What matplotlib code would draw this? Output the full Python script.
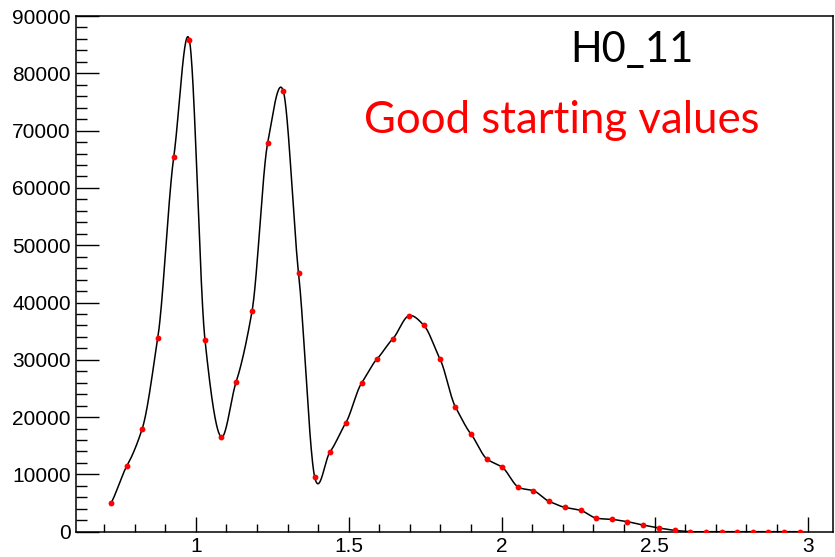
import numpy as np
import matplotlib
matplotlib.use("Agg")
import matplotlib.pyplot as plt

# Measured points (x position and counts)
x_vals = [0.723, 0.774, 0.825, 0.876, 0.928, 0.979, 1.030, 1.082, 1.132, 1.184,
          1.235, 1.286, 1.336, 1.389, 1.439, 1.490, 1.542, 1.593, 1.644, 1.696,
          1.746, 1.798, 1.849, 1.899, 1.951, 2.001, 2.054, 2.104, 2.155, 2.207,
          2.258, 2.308, 2.360, 2.411, 2.462, 2.514, 2.565, 2.617, 2.667, 2.719,
          2.770, 2.821, 2.872, 2.923, 2.975]
y_vals = [5000, 11390, 17970, 33890, 65360, 85820, 33540, 16570, 26160, 38500,
          67850, 76920, 45120, 9470, 13950, 18960, 25940, 30180, 33660, 37680,
          35990, 30180, 21750, 17090, 12730, 11290, 7800, 7150, 5290, 4240,
          3720, 2390, 2150, 1740, 1170, 650, 230, 0, 0, 0,
          0, 0, 0, 0, 0]

title_text = "H0_11"
note_text = "Good starting values"


def smooth_curve(x, y, xs, tension=0.25):
    # cardinal (Catmull-Rom like) Hermite curve through the points
    m = np.gradient(y, x)
    m[1:-1] = (y[2:] - y[:-2]) / (x[2:] - x[:-2])
    m = m * (1 - tension)
    idx = np.clip(np.searchsorted(x, xs) - 1, 0, len(x) - 2)
    h = x[idx + 1] - x[idx]
    t = (xs - x[idx]) / h
    h00 = 2 * t ** 3 - 3 * t ** 2 + 1
    h10 = t ** 3 - 2 * t ** 2 + t
    h01 = -2 * t ** 3 + 3 * t ** 2
    h11 = t ** 3 - t ** 2
    return h00 * y[idx] + h10 * h * m[idx] + h01 * y[idx + 1] + h11 * h * m[idx + 1]


x = np.array(x_vals, dtype=float)
y = np.array(y_vals, dtype=float)
xs = np.linspace(x[0], x[-1], 2000)
ys = smooth_curve(x, y, xs)

plt.rcParams['font.family'] = ['Liberation Sans', 'DejaVu Sans']

fig = plt.figure(figsize=(8.35, 5.57), dpi=100)
ax = fig.add_axes([76.3 / 835, 1 - 531.7 / 557, (833.3 - 76.3) / 835, (531.7 - 16) / 557])

ax.plot(xs, ys, color='black', lw=1.1, zorder=2)
ax.plot(x, y, 'o', color='#ff0000', ms=4.2, mec='none', zorder=3)

ax.set_xlim(0.6095, 3.084)
ax.set_ylim(0, 90000)

ax.set_xticks([1, 1.5, 2, 2.5, 3])
ax.set_xticklabels(['1', '1.5', '2', '2.5', '3'])
ax.set_xticks(np.arange(0.7, 3.05, 0.1), minor=True)
ax.set_yticks(np.arange(0, 90001, 10000))
ax.set_yticks(np.arange(0, 90001, 2000), minor=True)

ax.tick_params(axis='both', which='both', direction='in', width=1.0,
               labelsize=15, top=False, right=False)
ax.tick_params(axis='y', which='major', length=16.5, pad=4)
ax.tick_params(axis='y', which='minor', length=8)
ax.tick_params(axis='x', which='major', length=11, pad=4)
ax.tick_params(axis='x', which='minor', length=5.5)

for s in ax.spines.values():
    s.set_linewidth(1.1)

fig.text(570 / 835, 1 - 61.7 / 557, title_text, fontsize=30, family=['Lato', 'DejaVu Sans'],
         color='black', ha='left', va='baseline')
fig.text(364 / 835, 1 - 133.3 / 557, note_text, fontsize=31.5, family=['Lato', 'DejaVu Sans'],
         color='#ff0000', ha='left', va='baseline')

fig.savefig('out.png', dpi=100)
